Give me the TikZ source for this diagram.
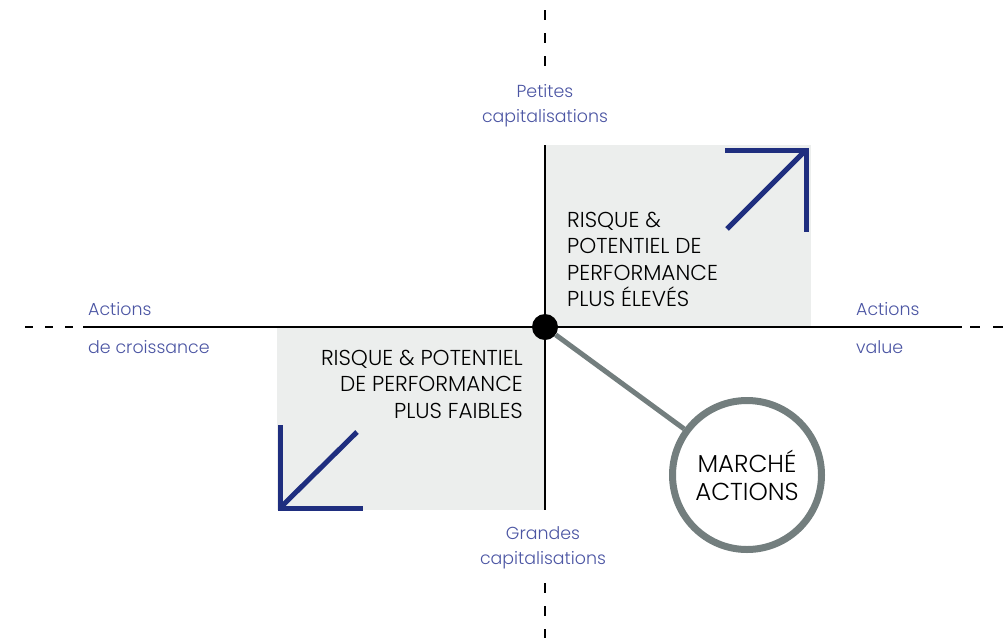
\documentclass[tikz,border=0pt]{standalone}
\usepackage{fontspec}
\setmainfont{Poppins Light}
\definecolor{navy}{HTML}{1F2E7F}
\definecolor{labelblue}{HTML}{4B55A3}
\definecolor{boxgrey}{HTML}{ECEEED}
\definecolor{ringgrey}{HTML}{737E7E}
\tikzset{
  axisline/.style={black, line width=2.6pt},
  axisdash/.style={axisline, dash pattern=on 10pt off 13pt},
  zone/.style={fill=boxgrey},
  trend/.style={navy, line width=5pt, miter limit=10},
  axislabel/.style={text=labelblue, font=\fontsize{17.4}{25}\selectfont, inner sep=0pt},
  zonetext/.style={text=black, font=\fontsize{21.6}{26.3}\selectfont, inner sep=0pt},
}
\begin{document}
\begin{tikzpicture}[x=1pt, y=-1pt]
  \useasboundingbox (0,0) rectangle (1007,638);
  % shaded quadrants
  \fill[zone] (545,145) rectangle (811,327);
  \fill[zone] (277,327) rectangle (545,510);

  % axes
  \coordinate (vtop) at (545,145);
  \coordinate (vbot) at (545,510);
  \coordinate (hleft) at (83,327);
  \coordinate (hright) at (962,327);
  \coordinate (vtopa) at (545,10);
  \coordinate (vtopb) at (545,67);
  \coordinate (vbota) at (545,583);
  \coordinate (vbotb) at (545,638);
  \coordinate (hlefta) at (25,327);
  \coordinate (hleftb) at (75,327);
  \coordinate (hrighta) at (970,327);
  \coordinate (hrightb) at (1007,327);
  \draw[axisline] (vtop) -- (vbot);
  \draw[axisline] (hleft) -- (hright);
  \draw[axisdash] (vtopa) -- (vtopb);
  \draw[axisdash] (vbota) -- (vbotb);
  \draw[axisline, dash pattern=on 8pt off 12pt] (hlefta) -- (hleftb);
  \draw[axisdash] (hrighta) -- (hrightb);

  % trend arrows
  \draw[trend] (725,150) -- (806,150) -- (806,232);
  \draw[trend] (727,229) -- (804,152);
  \draw[trend] (280,425) -- (280,508) -- (363,508);
  \draw[trend] (357,432) -- (282,506);

  % market circle and its link to the origin
  \node[circle, fill=black, minimum size=26pt, inner sep=0pt] (dot) at (545,327) {};
  \node[circle, draw=ringgrey, line width=7pt, fill=white, minimum size=149pt,
        align=center, font=\fontsize{24.5}{28}\selectfont] (ring) at (747,475) {MARCHÉ\\ACTIONS};
  \draw[ringgrey, line width=5pt] (dot) -- (ring);

  % axis labels
  \node[axislabel, align=center] (small) at (545,106) {Petites\\capitalisations};
  \node[axislabel, align=center] (large) at (543,548) {Grandes\\capitalisations};
  \node[axislabel, anchor=base west] (growth1) at (88,315) {Actions};
  \node[axislabel, anchor=base west] (growth2) at (88,353) {de croissance};
  \node[axislabel, anchor=base west] (value1) at (856,315) {Actions};
  \node[axislabel, anchor=base west] (value2) at (856,353) {value};

  % quadrant texts
  \node[zonetext, align=left, anchor=north west] (high) at (567,212)
    {RISQUE \&\\POTENTIEL DE\\PERFORMANCE\\PLUS ÉLEVÉS};
  \node[zonetext, align=right, anchor=north east] (low) at (523,350)
    {RISQUE \& POTENTIEL\\DE PERFORMANCE\\PLUS FAIBLES};
\end{tikzpicture}
\end{document}
